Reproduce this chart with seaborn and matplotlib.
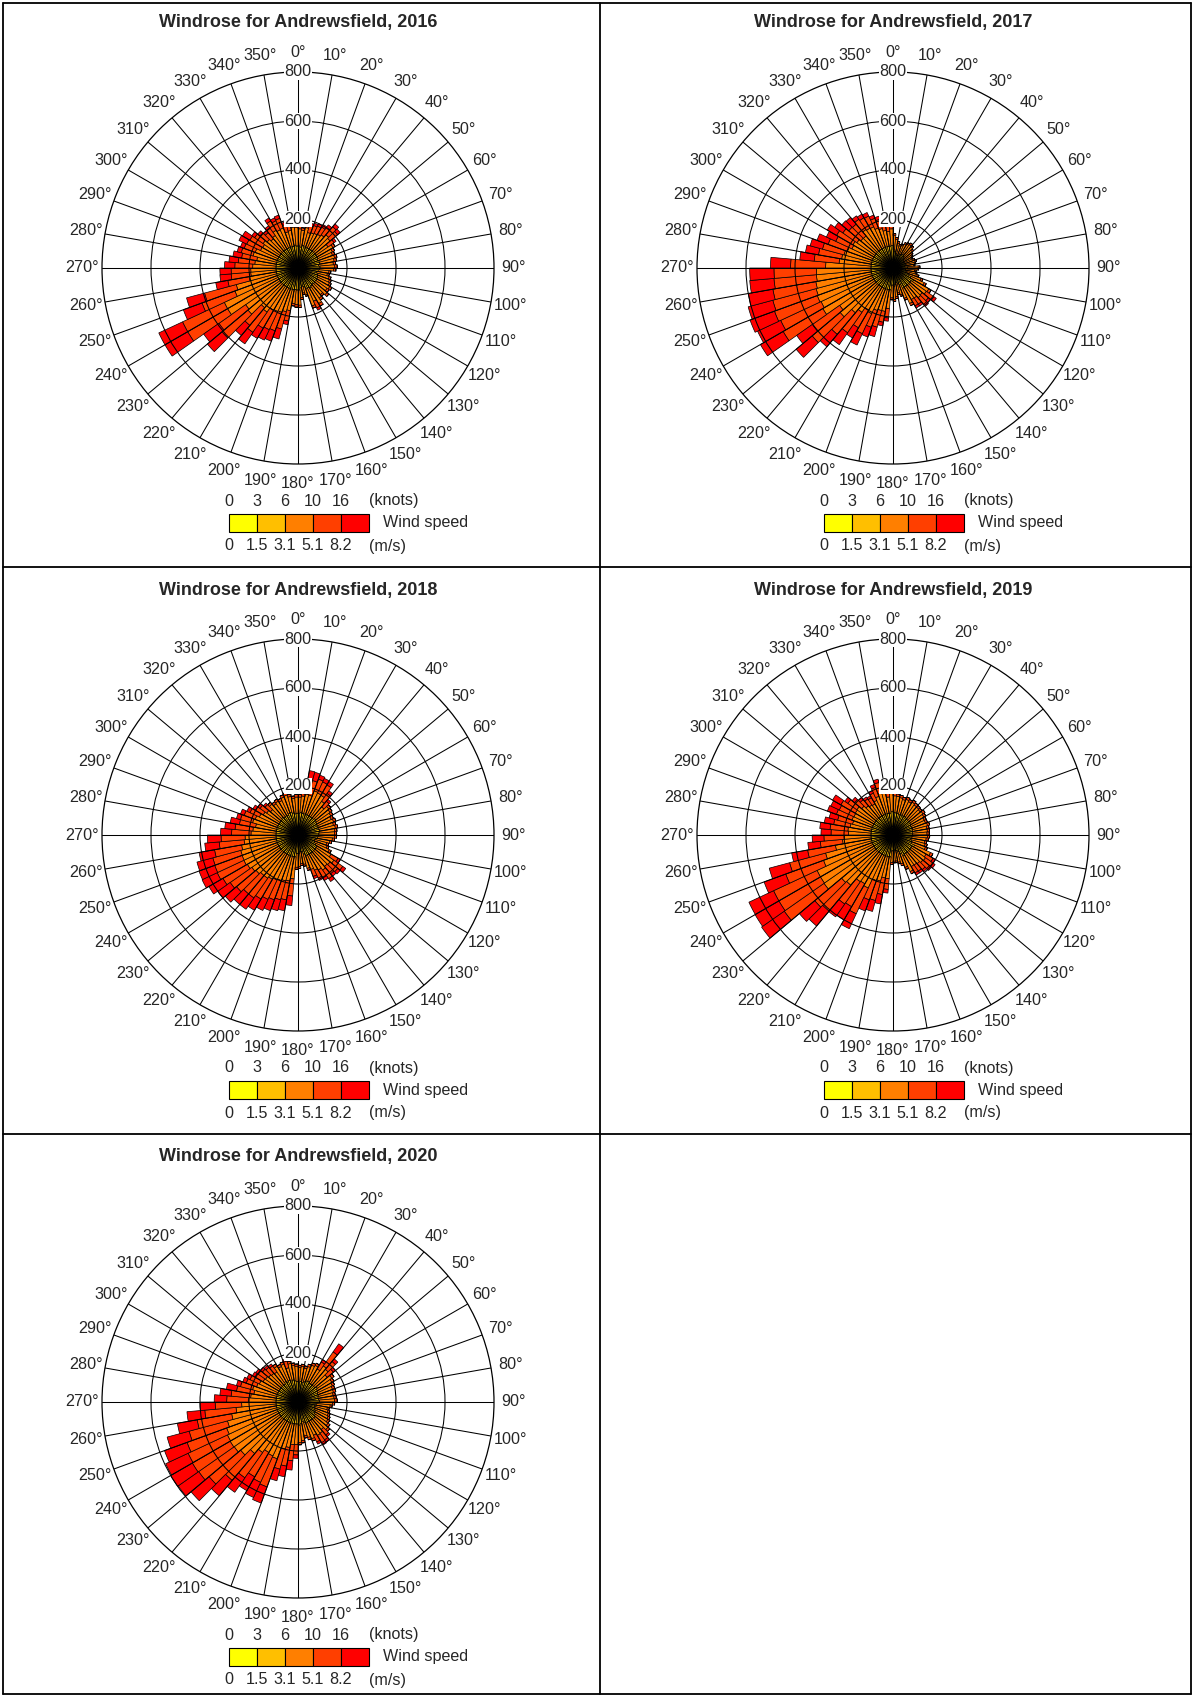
import numpy as np
import matplotlib
matplotlib.use('Agg')
import matplotlib.pyplot as plt
import seaborn as sns

"""
windroses for Andrewsfield, one per year, 5 degree sectors stacked by wind speed
"""

station = 'Andrewsfield'
years = [2016, 2017, 2018, 2019, 2020]
dir_start = list(range(0, 360, 5))          # start of each 5 degree sector
dir_ticks = list(range(0, 360, 10))
radial_ticks = [200, 400, 600, 800]
speed_ms = ['0', '1.5', '3.1', '5.1', '8.2']
speed_kt = ['0', '3', '6', '10', '16']

# hours per sector, columns: 0-1.5, 1.5-3.1, 3.1-5.1, 5.1-8.2, >8.2 m/s
counts_2016 = [
    [30,60,70,10,0],[28,58,69,10,0],[32,62,74,12,0],[30,60,60,30,10],[30,60,63,32,10],[30,60,66,33,11],
    [30,60,69,34,12],[30,60,75,38,12],[30,60,87,43,15],[30,60,81,40,14],[30,60,60,30,10],[30,60,75,10,0],
    [30,60,65,10,0],[28,58,64,10,0],[30,60,65,10,0],[30,60,60,10,0],[28,57,60,10,0],[30,60,60,10,0],
    [30,58,57,10,0],[28,55,44,8,0],[27,52,43,8,0],[30,55,47,8,0],[30,57,50,8,0],[30,58,54,8,0],
    [30,60,60,10,0],[30,58,57,10,0],[30,60,65,10,0],[30,58,54,8,0],[30,60,60,10,0],[32,62,74,12,0],
    [30,60,60,30,10],[30,60,75,10,0],[28,52,34,6,0],[26,50,28,6,0],[28,54,40,8,0],[30,60,62,10,0],
    [30,60,60,10,0],[30,58,58,10,0],[30,60,87,43,15],[30,60,95,73,42],[30,60,103,80,45],[30,60,106,82,47],
    [30,60,109,85,48],[30,60,130,101,57],[30,60,122,94,54],[30,60,177,138,78],[30,60,171,133,76],[30,60,242,188,107],
    [30,60,242,188,107],[30,60,184,143,81],[30,60,171,134,76],[30,60,113,88,50],[30,60,104,80,46],[30,60,103,80,46],
    [30,60,95,73,42],[30,60,87,68,38],[30,60,81,63,36],[30,60,100,50,17],[30,60,96,48,16],[30,60,79,62,35],
    [30,60,77,60,35],[30,60,84,42,14],[30,60,75,38,12],[30,60,66,33,11],[30,60,72,36,12],[30,60,88,44,14],
    [30,60,82,41,13],[30,60,84,42,14],[30,60,63,32,10],[30,60,66,33,11],[32,62,74,12,0],[30,60,75,10,0],
]
counts_2017 = [
    [25,50,57,8,0],[23,45,49,8,0],[20,40,43,7,0],[18,36,40,6,0],[19,38,42,6,0],[21,41,46,7,0],
    [22,43,48,7,0],[23,45,49,8,0],[22,43,48,7,0],[20,40,43,7,0],[18,36,40,6,0],[17,34,38,6,0],
    [16,32,37,5,0],[17,34,38,6,0],[18,36,40,6,0],[17,34,38,6,0],[16,32,37,5,0],[20,40,43,7,0],
    [19,38,42,6,0],[17,34,38,6,0],[18,36,40,6,0],[20,40,43,7,0],[23,47,52,8,0],[27,54,60,9,0],
    [32,65,72,11,0],[30,60,76,38,12],[30,60,66,33,11],[30,60,69,35,11],[30,60,60,30,10],[30,60,59,30,10],
    [31,61,68,10,0],[25,50,57,8,0],[22,43,48,7,0],[20,40,43,7,0],[23,45,49,8,0],[25,49,55,8,0],
    [23,47,52,8,0],[30,60,77,38,13],[30,60,90,45,15],[30,60,90,70,40],[30,60,95,73,42],[30,60,116,90,51],
    [30,60,108,84,48],[30,60,131,102,59],[30,60,149,115,66],[30,60,192,149,85],[30,60,176,136,78],[30,60,241,187,107],
    [30,60,234,182,104],[30,60,239,186,106],[30,60,235,183,104],[30,60,230,178,102],[30,60,224,174,99],[30,60,223,173,99],
    [30,60,185,143,82],[30,60,131,102,59],[30,60,123,96,54],[30,60,117,91,52],[30,60,108,84,48],[30,60,95,73,42],
    [30,60,99,77,44],[30,60,90,70,40],[30,60,82,64,37],[30,60,81,63,36],[30,60,102,51,17],[30,60,98,49,17],
    [30,60,96,48,16],[30,60,84,42,14],[30,60,77,39,13],[30,60,66,33,11],[30,60,60,30,10],[31,61,68,10,0],
]
counts_2018 = [
    [30,59,66,10,0],[31,61,68,10,0],[30,60,80,62,35],[30,60,79,61,35],[30,60,102,51,17],[30,60,99,50,16],
    [30,60,97,49,16],[30,60,78,39,13],[30,60,60,30,10],[32,63,70,10,0],[31,61,68,10,0],[30,59,66,10,0],
    [29,58,63,10,0],[30,59,66,10,0],[29,58,63,10,0],[30,59,66,10,0],[29,58,63,10,0],[28,57,64,9,0],
    [28,57,64,9,0],[27,54,60,9,0],[25,50,57,8,0],[23,47,52,8,0],[24,49,54,8,0],[27,54,60,9,0],
    [30,60,66,33,11],[30,60,89,44,15],[30,60,81,41,13],[30,60,78,39,13],[30,60,85,43,14],[30,60,75,38,12],
    [30,60,69,35,11],[30,60,60,30,10],[27,54,60,9,0],[23,47,52,8,0],[23,45,49,8,0],[25,49,55,8,0],
    [25,50,57,8,0],[30,60,90,70,39],[30,60,101,78,45],[30,60,104,80,46],[30,60,108,84,47],[30,60,113,87,50],
    [30,60,119,93,53],[30,60,126,98,56],[30,60,126,98,56],[30,60,134,104,60],[30,60,140,108,62],[30,60,149,115,66],
    [30,60,154,120,68],[30,60,153,119,68],[30,60,152,118,67],[30,60,144,112,64],[30,60,131,102,59],[30,60,126,98,56],
    [30,60,102,79,45],[30,60,95,73,42],[30,60,86,67,38],[30,60,102,51,17],[30,60,96,48,16],[30,60,84,42,14],
    [30,60,74,37,12],[30,60,66,33,11],[30,60,57,29,9],[32,63,70,10,0],[30,60,66,10,0],[31,61,68,10,0],
    [30,59,66,10,0],[32,63,70,10,0],[32,65,72,11,0],[31,61,68,10,0],[29,58,63,10,0],[30,59,66,10,0],
]
counts_2019 = [
    [31,61,68,10,0],[30,61,68,10,0],[30,59,66,10,0],[29,58,63,10,0],[30,59,66,10,0],[29,58,63,10,0],
    [30,59,66,10,0],[29,58,63,10,0],[28,57,64,9,0],[28,56,62,9,0],[29,58,63,10,0],[28,56,62,9,0],
    [27,54,60,9,0],[27,54,60,9,0],[28,56,62,9,0],[27,54,60,9,0],[27,54,60,9,0],[27,53,59,9,0],
    [27,54,60,9,0],[26,52,58,9,0],[25,50,57,8,0],[26,52,58,9,0],[27,54,60,9,0],[32,65,72,11,0],
    [30,60,66,33,11],[30,60,72,36,12],[30,60,69,35,11],[30,60,63,32,10],[30,60,60,30,10],[30,60,59,30,10],
    [32,63,70,10,0],[27,54,60,9,0],[23,47,52,8,0],[22,43,48,7,0],[21,41,45,7,0],[21,41,45,7,0],
    [22,43,48,7,0],[30,60,89,44,15],[30,60,88,69,39],[30,60,105,82,46],[30,60,108,84,48],[30,60,149,116,67],
    [30,60,140,108,62],[30,60,143,111,64],[30,60,178,138,79],[30,60,184,143,82],[30,60,254,198,113],[30,60,252,196,112],
    [30,60,252,196,111],[30,60,212,164,94],[30,60,195,152,86],[30,60,149,115,66],[30,60,117,91,51],[30,60,108,84,48],
    [30,60,92,71,41],[30,60,95,73,42],[30,60,88,68,39],[30,60,81,63,36],[30,60,88,68,39],[30,60,86,66,38],
    [30,60,88,68,39],[30,60,90,45,15],[30,60,77,38,13],[30,60,66,33,11],[30,60,60,30,10],[30,60,57,29,9],
    [30,60,66,33,11],[30,60,78,39,13],[30,60,88,44,14],[30,60,84,42,14],[30,60,66,33,11],[32,65,72,11,0],
]
counts_2020 = [
    [27,54,60,9,0],[28,56,62,9,0],[27,54,60,9,0],[29,58,63,10,0],[31,61,68,10,0],[32,63,70,10,0],
    [30,60,66,33,11],[30,60,90,70,40],[30,60,84,42,14],[30,60,66,33,11],[32,65,72,11,0],[31,61,68,10,0],
    [30,59,66,10,0],[29,58,63,10,0],[29,58,63,10,0],[28,56,62,9,0],[28,57,63,9,0],[29,58,63,10,0],
    [27,54,60,9,0],[25,50,57,8,0],[23,47,52,8,0],[24,49,54,8,0],[25,50,57,8,0],[26,52,58,9,0],
    [27,54,60,9,0],[29,58,63,10,0],[31,61,68,10,0],[30,60,57,29,9],[30,60,66,33,11],[30,60,68,34,11],
    [30,60,60,30,10],[31,61,68,10,0],[29,58,63,10,0],[27,54,60,9,0],[30,60,68,10,0],[32,63,70,10,0],
    [30,60,84,42,14],[30,60,85,66,38],[30,60,99,77,44],[30,60,109,85,49],[30,60,157,122,70],[30,60,153,119,68],
    [30,60,148,115,65],[30,60,162,126,72],[30,60,185,143,82],[30,60,216,168,96],[30,60,228,177,102],[30,60,230,178,102],
    [30,60,228,177,101],[30,60,220,172,98],[30,60,208,162,93],[30,60,185,143,82],[30,60,164,128,73],[30,60,140,108,62],
    [30,60,113,88,51],[30,60,104,80,46],[30,60,93,72,42],[30,60,102,51,17],[30,60,90,45,15],[30,60,84,42,14],
    [30,60,75,38,12],[30,60,72,36,12],[30,60,67,33,11],[30,60,63,32,10],[30,60,60,30,10],[32,65,72,11,0],
    [31,61,68,10,0],[32,63,70,10,0],[30,60,55,28,9],[31,61,68,10,0],[29,58,63,10,0],[28,56,62,9,0],
]
all_counts = [counts_2016, counts_2017, counts_2018, counts_2019, counts_2020]

sns.set_theme(style='white')
plt.rcParams['font.family'] = ['Liberation Sans', 'DejaVu Sans']
colors = sns.blend_palette(['#ffff00', '#ff0000'], 5)
fs = 11.6

W, H = 1194, 1696
fig = plt.figure(figsize=(W / 100, H / 100), dpi=100)

# background axes in pixel units for table lines and texts
bg = fig.add_axes([0, 0, 1, 1])
bg.set_xlim(0, W)
bg.set_ylim(H, 0)
bg.axis('off')
for y in [3, 567, 1134, 1694]:
    bg.plot([3, 1191], [y, y], color='black', lw=1.3)
for x in [3, 600, 1191]:
    bg.plot([x, x], [3, 1694], color='black', lw=1.3)

R = 196  # pixel radius of the 800 ring
theta = np.deg2rad(np.array(dir_start) + 2.5)
width = np.deg2rad(5)

for k, (year, counts) in enumerate(zip(years, all_counts)):
    row, col = divmod(k, 2)
    cx = 298 + col * 595
    cy = 268 + row * 567
    data = np.array(counts)

    ax = fig.add_axes([(cx - R) / W, 1 - (cy + R) / H, 2 * R / W, 2 * R / H], projection='polar')
    ax.set_theta_zero_location('N')
    ax.set_theta_direction(-1)
    bottom = np.zeros(len(dir_start))
    for j in range(5):
        ax.bar(theta, data[:, j], width=width, bottom=bottom, color=colors[j],
               edgecolor='black', linewidth=0.5)
        bottom += data[:, j]
    ax.set_ylim(0, 800)
    ax.set_xticks(np.deg2rad(dir_ticks))
    ax.set_xticklabels([])
    ax.set_yticks(radial_ticks[:-1])
    ax.set_yticklabels([])
    ax.set_axisbelow(False)
    ax.grid(True, color='black', linewidth=0.75)
    ax.spines['polar'].set_color('black')
    ax.spines['polar'].set_linewidth(0.9)
    ax.set_facecolor('white')

    for d in dir_ticks:
        ax.text(np.deg2rad(d), 880, f'{d}°', ha='center', va='center', fontsize=fs, clip_on=False)
    for v in radial_ticks:
        ax.text(0, v, str(v), ha='center', va='center', fontsize=fs, zorder=6,
                bbox=dict(boxstyle='square,pad=0.05', facecolor='white', edgecolor='none'))

    bg.text(cx, 23 + row * 567, f'Windrose for {station}, {year}', ha='center', va='center',
            fontsize=13, fontweight='bold')

    # speed legend
    lax = fig.add_axes([(cx - 69) / W, 1 - (cy + 264) / H, 140 / W, 18 / H])
    lax.bar(range(5), [1] * 5, width=1, align='edge', color=colors, edgecolor='black',
            linewidth=0.8, clip_on=False)
    lax.set_xlim(0, 5)
    lax.set_ylim(0, 1)
    lax.axis('off')
    for i in range(5):
        bg.text(cx - 69 + i * 28, cy + 233, speed_kt[i], ha='center', va='center', fontsize=fs)
        bg.text(cx - 69 + i * 28, cy + 278, speed_ms[i], ha='center', va='center', fontsize=fs)
    bg.text(cx + 71, cy + 233, '(knots)', ha='left', va='center', fontsize=fs)
    bg.text(cx + 71, cy + 278, '(m/s)', ha='left', va='center', fontsize=fs)
    bg.text(cx + 85, cy + 255, 'Wind speed', ha='left', va='center', fontsize=fs)

fig.savefig('out.png', dpi=100)
